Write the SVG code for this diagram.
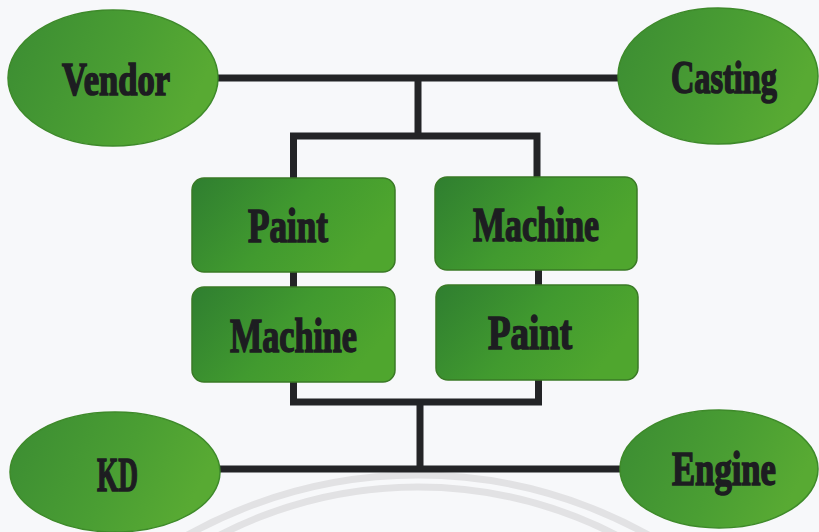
<svg xmlns="http://www.w3.org/2000/svg" width="819" height="532" viewBox="0 0 819 532">
  <defs>
    <linearGradient id="ovalFill" x1="0" y1="0" x2="1" y2="0.3">
      <stop offset="0" stop-color="#3b8c33"/>
      <stop offset="0.6" stop-color="#4a9e33"/>
      <stop offset="1" stop-color="#58aa33"/>
    </linearGradient>
    <linearGradient id="boxFill" x1="0" y1="0" x2="1" y2="0.4">
      <stop offset="0" stop-color="#2f7e30"/>
      <stop offset="0.55" stop-color="#419a2f"/>
      <stop offset="1" stop-color="#4fa62e"/>
    </linearGradient>
    <style>
      .bg { fill: #f7f8fa; }
      .arc { fill: none; stroke: #e2e2e4; stroke-width: 7; }
      .wire { fill: none; stroke: #232426; stroke-width: 7; stroke-linejoin: miter; stroke-linecap: butt; }
      .oval { fill: url(#ovalFill); stroke: #3e8a2a; stroke-width: 1.5; }
      .box { fill: url(#boxFill); stroke: #3a7a26; stroke-width: 1.5; }
      .label { font-family: "Liberation Serif", "DejaVu Serif", serif; font-weight: bold; fill: #1d1d21; stroke: #1d1d21; stroke-width: 1.7; text-anchor: middle; }
    </style>
  </defs>

  <rect class="bg" x="0" y="0" width="819" height="532"/>

  <!-- faint background arcs -->
  <g id="backdrop">
    <circle class="arc" cx="418" cy="947" r="472"/>
    <circle class="arc" cx="418" cy="919" r="432"/>
  </g>

  <!-- connectors -->
  <g id="connectors">
    <path class="wire" d="M218,78 H620"/>
    <path class="wire" d="M418,78 V136"/>
    <path class="wire" d="M293.5,180 V136 H537 V180"/>
    <path class="wire" d="M293.5,270 V402 H538.5 V270"/>
    <path class="wire" d="M420,402 V469"/>
    <path class="wire" d="M220,469 H622"/>
  </g>

  <g id="vendor">
    <ellipse class="oval" cx="113" cy="78" rx="105" ry="68"/>
    <text class="label" x="116" y="95" font-size="46" textLength="108" lengthAdjust="spacingAndGlyphs">Vendor</text>
  </g>

  <g id="casting">
    <ellipse class="oval" cx="718" cy="76" rx="100" ry="68"/>
    <text class="label" x="724" y="93" font-size="46" textLength="106" lengthAdjust="spacingAndGlyphs">Casting</text>
  </g>

  <g id="paint-1">
    <rect class="box" x="192" y="178" width="203" height="94" rx="12"/>
    <text class="label" x="288" y="242" font-size="48" textLength="80" lengthAdjust="spacingAndGlyphs">Paint</text>
  </g>

  <g id="machine-1">
    <rect class="box" x="435" y="177" width="202" height="93" rx="12"/>
    <text class="label" x="536" y="241" font-size="49" textLength="126" lengthAdjust="spacingAndGlyphs">Machine</text>
  </g>

  <g id="machine-2">
    <rect class="box" x="192" y="287" width="203" height="95" rx="12"/>
    <text class="label" x="293.5" y="352" font-size="49" textLength="127" lengthAdjust="spacingAndGlyphs">Machine</text>
  </g>

  <g id="paint-2">
    <rect class="box" x="436" y="285" width="202" height="95" rx="12"/>
    <text class="label" x="530" y="349" font-size="48" textLength="84" lengthAdjust="spacingAndGlyphs">Paint</text>
  </g>

  <g id="kd">
    <ellipse class="oval" cx="115" cy="472" rx="105" ry="60"/>
    <text class="label" x="117.5" y="491" font-size="49" textLength="41" lengthAdjust="spacingAndGlyphs">KD</text>
  </g>

  <g id="engine">
    <ellipse class="oval" cx="719" cy="469" rx="99" ry="59"/>
    <text class="label" x="724" y="485" font-size="48" textLength="104" lengthAdjust="spacingAndGlyphs">Engine</text>
  </g>
</svg>
